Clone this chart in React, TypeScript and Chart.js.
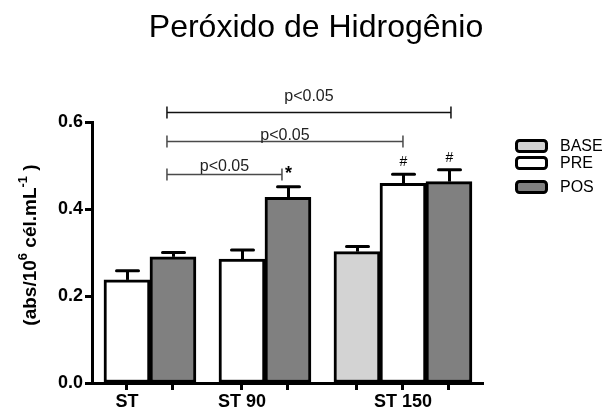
import { useEffect, useRef } from "react";
import { Chart, registerables } from "chart.js";

Chart.register(...registerables);

// ---- data ----
const groups = ["ST", "ST 90", "ST 150"];
const seriesNames = ["BASE", "PRE", "POS"];
const baseValues: (number | null)[] = [null, null, 0.302];
const preValues: (number | null)[] = [0.237, 0.285, 0.459];
const posValues: (number | null)[] = [0.29, 0.427, 0.463];
const baseErrors: (number | null)[] = [null, null, 0.012];
const preErrors: (number | null)[] = [0.021, 0.021, 0.021];
const posErrors: (number | null)[] = [0.01, 0.024, 0.027];
const preMarks = ["", "", "#"];
const posMarks = ["", "*", "#"];
const yTicks = [0, 0.2, 0.4, 0.6];

// significance brackets: [group, series] endpoints and the level they sit at
const comparisonLabels = ["p<0.05", "p<0.05", "p<0.05"];
const comparisonFrom = [[0, 2], [0, 2], [0, 2]];
const comparisonTo = [[2, 2], [2, 1], [1, 2]];
const comparisonLevels = [0.624, 0.556, 0.48];

// ---- styling ----
const FONT = "'Liberation Sans', Arial, Helvetica, sans-serif";
const fills = ["#d3d3d3", "#ffffff", "#808080"];
const bracketColors = ["#111111", "#4a4a4a", "#4a4a4a"];
const bracketLabelLift = [12, 2, 4];
const bracketRightInset = [-2, 0, 6];
const legendRows = [146, 163, 187];

const values = [baseValues, preValues, posValues];
const errors = [baseErrors, preErrors, posErrors];
const marks = [groups.map(() => ""), preMarks, posMarks];

// slot of every bar along the x axis; groups are separated by an extra half slot
const slots: (number | null)[][] = seriesNames.map(() => groups.map(() => null));
const labelSlots: number[] = [];
const allSlots: number[] = [];
{
  let cursor = 0;
  groups.forEach((_, gi) => {
    const used: number[] = [];
    seriesNames.forEach((_, si) => {
      if (values[si][gi] != null) {
        slots[si][gi] = cursor;
        used.push(cursor);
        allSlots.push(cursor);
        cursor += 1;
      }
    });
    labelSlots.push(used[Math.floor((used.length - 1) / 2)]);
    cursor += 0.5;
  });
}

const overlay = {
  id: "overlay",
  afterDatasetsDraw(chart: any) {
    const ctx: CanvasRenderingContext2D = chart.ctx;
    const xs = chart.scales.x;
    const ys = chart.scales.y;
    ctx.save();

    // error bars and markers
    seriesNames.forEach((_, si) => {
      groups.forEach((_, gi) => {
        const v = values[si][gi];
        const e = errors[si][gi];
        const s = slots[si][gi];
        if (v == null || e == null || s == null) return;
        const cx = Math.round(xs.getPixelForValue(s)) + 0.5;
        const top = ys.getPixelForValue(v);
        const cap = ys.getPixelForValue(v + e);
        ctx.strokeStyle = "#000";
        ctx.lineWidth = 3;
        ctx.lineCap = "butt";
        ctx.beginPath();
        ctx.moveTo(cx, top);
        ctx.lineTo(cx, cap);
        ctx.stroke();
        ctx.lineCap = "round";
        ctx.beginPath();
        ctx.moveTo(cx - 11, cap);
        ctx.lineTo(cx + 11, cap);
        ctx.stroke();

        const m = marks[si][gi];
        if (m) {
          ctx.fillStyle = "#000";
          ctx.textAlign = "center";
          ctx.textBaseline = "alphabetic";
          ctx.font = m === "*" ? `bold 18px ${FONT}` : `14px ${FONT}`;
          ctx.fillText(m, cx, cap - 8);
        }
      });
    });

    // comparison brackets
    comparisonLabels.forEach((label, i) => {
      const [fg, fs] = comparisonFrom[i];
      const [tg, ts] = comparisonTo[i];
      const x1 = xs.getPixelForValue(slots[fs][fg] as number) - 6;
      const x2 = xs.getPixelForValue(slots[ts][tg] as number) - bracketRightInset[i];
      const ly = Math.round(ys.getPixelForValue(comparisonLevels[i])) + 0.5;
      ctx.strokeStyle = bracketColors[i];
      ctx.lineWidth = 1.5;
      ctx.lineCap = "butt";
      ctx.beginPath();
      ctx.moveTo(x1, ly);
      ctx.lineTo(x2, ly);
      ctx.moveTo(x1, ly - 6);
      ctx.lineTo(x1, ly + 6);
      ctx.moveTo(x2, ly - 6);
      ctx.lineTo(x2, ly + 6);
      ctx.stroke();
      ctx.fillStyle = "#222";
      ctx.font = `16px ${FONT}`;
      ctx.textAlign = "center";
      ctx.textBaseline = "alphabetic";
      ctx.fillText(label, (x1 + x2) / 2, ly - bracketLabelLift[i]);
    });

    ctx.restore();
  },
  afterDraw(chart: any) {
    const ctx: CanvasRenderingContext2D = chart.ctx;
    ctx.save();

    // title
    ctx.fillStyle = "#000";
    ctx.font = `32px ${FONT}`;
    ctx.textAlign = "center";
    ctx.textBaseline = "alphabetic";
    ctx.fillText("Peróxido de Hidrogênio", 316, 37);

    // y axis title with superscripts
    const parts: [string, boolean][] = [
      ["(abs/10", false],
      ["6", true],
      [" cél.mL", false],
      ["-1", true],
      [" )", false],
    ];
    const big = `bold 19px ${FONT}`;
    const small = `bold 13px ${FONT}`;
    let total = 0;
    parts.forEach(([t, sup]) => {
      ctx.font = sup ? small : big;
      total += ctx.measureText(t).width;
    });
    ctx.translate(30, 245);
    ctx.rotate(-Math.PI / 2);
    ctx.textAlign = "left";
    ctx.textBaseline = "middle";
    let px = -total / 2;
    parts.forEach(([t, sup]) => {
      ctx.font = sup ? small : big;
      ctx.fillText(t, px, sup ? -7 : 1);
      px += ctx.measureText(t).width;
    });
    ctx.setTransform(1, 0, 0, 1, 0, 0);

    // legend
    seriesNames.forEach((name, i) => {
      const cy = legendRows[i];
      ctx.fillStyle = fills[i];
      ctx.strokeStyle = "#000";
      ctx.lineWidth = 3;
      ctx.beginPath();
      ctx.roundRect(516.5, cy - 5.5, 30, 11, 3);
      ctx.fill();
      ctx.stroke();
      ctx.fillStyle = "#000";
      ctx.font = `16px ${FONT}`;
      ctx.textAlign = "left";
      ctx.textBaseline = "middle";
      ctx.fillText(name, 560, cy + 1);
    });

    ctx.restore();
  },
};

export default function App() {
  const ref = useRef<HTMLCanvasElement>(null);

  useEffect(() => {
    if (!ref.current) return;
    const datasets = seriesNames.map((name, si) => ({
      label: name,
      data: groups
        .map((_, gi) => (values[si][gi] == null ? null : { x: slots[si][gi], y: values[si][gi] }))
        .filter((d) => d != null),
      backgroundColor: fills[si],
      borderColor: "#000",
      borderWidth: 3,
      borderSkipped: false as const,
      barThickness: 46,
      grouped: false,
    }));

    const tickFont = { family: FONT, size: 18, weight: "bold" as const };

    const chart = new Chart(ref.current, {
      type: "bar",
      data: { datasets: datasets as any },
      plugins: [overlay],
      options: {
        animation: false,
        responsive: false,
        maintainAspectRatio: false,
        layout: { padding: { left: 0, right: 124, top: 122, bottom: 0 } },
        plugins: {
          legend: { display: false },
          title: { display: false },
          tooltip: { enabled: false },
        },
        scales: {
          x: {
            type: "linear",
            offset: false,
            min: -0.76,
            max: 7.74,
            afterBuildTicks: (s: any) => {
              s.ticks = allSlots.map((v) => ({ value: v }));
            },
            afterFit: (s: any) => {
              s.height = 29;
            },
            ticks: {
              autoSkip: false,
              maxRotation: 0,
              padding: 1,
              color: "#000",
              font: tickFont,
              callback: (v: any) => {
                const i = labelSlots.indexOf(Number(v));
                return i >= 0 ? groups[i] : "";
              },
            },
            grid: {
              offset: false,
              drawOnChartArea: false,
              drawTicks: true,
              tickLength: 7,
              tickWidth: 3,
              color: "#000",
            },
            border: { display: true, width: 3, color: "#000" },
          },
          y: {
            min: 0,
            max: 0.6,
            afterBuildTicks: (s: any) => {
              s.ticks = yTicks.map((v) => ({ value: v }));
            },
            afterFit: (s: any) => {
              s.width = 92;
            },
            ticks: {
              padding: 2,
              color: "#000",
              font: tickFont,
              callback: (v: any) => Number(v).toFixed(1),
            },
            grid: {
              drawOnChartArea: false,
              drawTicks: true,
              tickLength: 7,
              tickWidth: 3,
              color: "#000",
            },
            border: { display: true, width: 3, color: "#000" },
          },
        },
      },
    });
    return () => chart.destroy();
  }, []);

  return (
    <div style={{ position: "fixed", left: 0, top: 0, width: 607, height: 412, background: "#fff" }}>
      <canvas ref={ref} width={607} height={412} style={{ display: "block" }} />
    </div>
  );
}
